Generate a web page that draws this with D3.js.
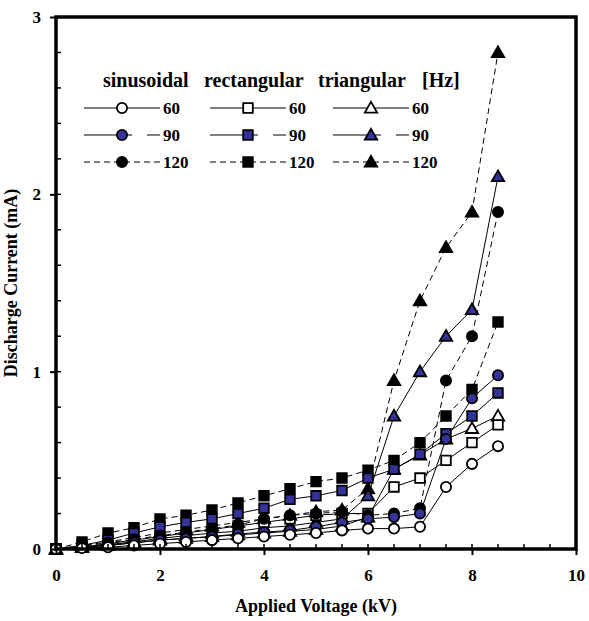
<!DOCTYPE html>
<html>
<head>
<meta charset="utf-8">
<script src="https://cdn.jsdelivr.net/npm/d3@7"></script>
<style>
  body { margin: 0; background: #fff; }
  text { font-family: "Liberation Serif", "Times New Roman", serif; font-weight: bold; }
</style>
</head>
<body>
<script>
// data (kV vs mA)
var voltage = [0, 0.5, 1, 1.5, 2, 2.5, 3, 3.5, 4, 4.5, 5, 5.5, 6, 6.5, 7, 7.5, 8, 8.5];

var sin60  = [0, 0.005, 0.01, 0.02, 0.03, 0.04, 0.05, 0.06, 0.07, 0.08, 0.09, 0.105, 0.115, 0.115, 0.125, 0.35, 0.48, 0.58];
var sin90  = [0, 0.01, 0.02, 0.035, 0.05, 0.06, 0.07, 0.085, 0.095, 0.105, 0.125, 0.15, 0.17, 0.18, 0.2, 0.62, 0.85, 0.98];
var sin120 = [0, 0.015, 0.035, 0.055, 0.075, 0.095, 0.115, 0.135, 0.17, 0.19, 0.2, 0.21, 0.19, 0.2, 0.23, 0.95, 1.2, 1.9];
var rect60  = [0, 0.01, 0.03, 0.05, 0.07, 0.09, 0.11, 0.13, 0.15, 0.17, 0.19, 0.2, 0.2, 0.35, 0.4, 0.5, 0.6, 0.7];
var rect90  = [0, 0.02, 0.05, 0.09, 0.125, 0.15, 0.17, 0.2, 0.23, 0.28, 0.3, 0.33, 0.4, 0.45, 0.535, 0.65, 0.75, 0.88];
var rect120 = [0, 0.04, 0.09, 0.12, 0.17, 0.19, 0.22, 0.26, 0.3, 0.34, 0.38, 0.4, 0.445, 0.5, 0.6, 0.75, 0.9, 1.28];
var tri60  = [0, 0.01, 0.02, 0.035, 0.05, 0.06, 0.07, 0.08, 0.09, 0.1, 0.11, 0.13, 0.18, 0.45, 0.53, 0.62, 0.68, 0.75];
var tri90  = [0, 0.01, 0.025, 0.04, 0.06, 0.075, 0.09, 0.1, 0.12, 0.13, 0.15, 0.17, 0.3, 0.75, 1.0, 1.2, 1.35, 2.1];
var tri120 = [0, 0.02, 0.04, 0.065, 0.09, 0.11, 0.13, 0.15, 0.17, 0.19, 0.21, 0.22, 0.34, 0.95, 1.4, 1.7, 1.9, 2.8];

var xTicks = [0, 2, 4, 6, 8, 10];
var yTicks = [0, 1, 2, 3];
var shapes = ["sinusoidal", "rectangular", "triangular"];
var freqs = ["60", "90", "120"];

var blue = "#333399";

// series table, draw order: triangles, squares, circles (120 -> 60)
var series = [
  { name: "tri120",  shape: "tri",    freq: "120", values: tri120 },
  { name: "tri90",   shape: "tri",    freq: "90",  values: tri90 },
  { name: "tri60",   shape: "tri",    freq: "60",  values: tri60 },
  { name: "rect120", shape: "square", freq: "120", values: rect120 },
  { name: "rect90",  shape: "square", freq: "90",  values: rect90 },
  { name: "rect60",  shape: "square", freq: "60",  values: rect60 },
  { name: "sin120",  shape: "circle", freq: "120", values: sin120 },
  { name: "sin90",   shape: "circle", freq: "90",  values: sin90 },
  { name: "sin60",   shape: "circle", freq: "60",  values: sin60 }
];

var margin = {top: 17, right: 13, bottom: 72, left: 56},
    W = 589, H = 621,
    width = W - margin.left - margin.right,
    height = H - margin.top - margin.bottom;

var x = d3.scaleLinear().domain([0, 10]).range([0, width]);
var y = d3.scaleLinear().domain([0, 3]).range([height, 0]);

var svg = d3.select("body").append("svg")
    .attr("width", W).attr("height", H)
  .append("g")
    .attr("transform", "translate(" + margin.left + "," + margin.top + ")");

function fillOf(freq) { return freq == "60" ? "#fff" : (freq == "90" ? blue : "#000"); }
function symOf(shape) {
  if (shape == "circle") return d3.symbol().type(d3.symbolCircle).size(82)();
  if (shape == "square") return d3.symbol().type(d3.symbolSquare).size(92)();
  return d3.symbol().type(d3.symbolTriangle).size(66)();
}

// lines
var line = d3.line().x(function(d, i) { return x(voltage[i]); }).y(function(d) { return y(d); });
svg.selectAll(".serie").data(series).enter().append("path")
  .attr("class", "serie")
  .attr("d", function(s) { return line(s.values); })
  .attr("fill", "none")
  .attr("stroke", "#000")
  .attr("stroke-width", 1)
  .attr("stroke-dasharray", function(s) { return s.freq == "120" ? "6,4" : null; });

// markers
series.forEach(function(s) {
  svg.append("g").selectAll("path").data(s.values).enter().append("path")
    .attr("d", symOf(s.shape))
    .attr("transform", function(d, i) { return "translate(" + x(voltage[i]) + "," + (y(d) + (s.shape == "tri" ? 1 : 0)) + ")"; })
    .attr("fill", fillOf(s.freq))
    .attr("stroke", "#000")
    .attr("stroke-width", 1.8);
});

// axes
var xAxis = d3.axisBottom(x).tickValues(xTicks).tickSize(6).tickPadding(10).tickFormat(d3.format("d"));
var yAxis = d3.axisLeft(y).tickValues(yTicks).tickSize(6).tickPadding(9).tickFormat(d3.format("d"));

var gx = svg.append("g").attr("transform", "translate(0," + height + ")").call(xAxis);
var gy = svg.append("g").call(yAxis);
[gx, gy].forEach(function(g) {
  g.select(".domain").remove();
  g.selectAll("line").attr("stroke-width", 2);
  g.selectAll("text").style("font-size", "17px").style("font-family", "Liberation Serif, serif").style("font-weight", "bold");
});
gx.selectAll("text").attr("dy", "0.95em");

// minor ticks (inside)
svg.append("g").selectAll("line").data(d3.range(0.5, 10, 0.5)).enter().append("line")
  .attr("x1", function(d) { return x(d); }).attr("x2", function(d) { return x(d); })
  .attr("y1", height).attr("y2", height - 5)
  .attr("stroke", "#000").attr("stroke-width", 1.5);
svg.append("g").selectAll("line").data(d3.range(0.2, 3, 0.2)).enter().append("line")
  .attr("x1", 0).attr("x2", 5)
  .attr("y1", function(d) { return y(d); }).attr("y2", function(d) { return y(d); })
  .attr("stroke", "#000").attr("stroke-width", 1.5);

// frame
svg.append("rect").attr("width", width).attr("height", height)
  .attr("fill", "none").attr("stroke", "#000").attr("stroke-width", 3.5);

// axis titles
svg.append("text").attr("x", width / 2).attr("y", height + 63)
  .attr("text-anchor", "middle").style("font-size", "18px").text("Applied Voltage (kV)");
svg.append("text").attr("transform", "translate(" + (-39) + "," + (height / 2) + ") rotate(-90)")
  .attr("text-anchor", "middle").style("font-size", "18px").text("Discharge Current (mA)");

// legend
var leg = svg.append("g").attr("transform", "translate(-56,-17)");
var titleX = [103, 204, 318];
shapes.forEach(function(s, i) {
  leg.append("text").attr("x", titleX[i]).attr("y", 87).style("font-size", "20px").text(s);
});
leg.append("text").attr("x", 422).attr("y", 87).style("font-size", "20px").text("[Hz]");

var colX = [84, 210, 333];
var rowY = [108, 135, 162];
var legShapes = ["circle", "square", "tri"];
legShapes.forEach(function(sh, c) {
  freqs.forEach(function(f, r) {
    var x0 = colX[c], yy = rowY[r], mx = x0 + 38, x1 = x0 + 76;
    if (f == "60") {
      leg.append("line").attr("x1", x0).attr("x2", x1).attr("y1", yy).attr("y2", yy).attr("stroke", "#000");
    } else if (f == "90") {
      leg.append("line").attr("x1", x0).attr("x2", mx + 10).attr("y1", yy).attr("y2", yy).attr("stroke", "#000");
      leg.append("line").attr("x1", x1 - 13).attr("x2", x1).attr("y1", yy).attr("y2", yy).attr("stroke", "#000");
    } else {
      leg.append("line").attr("x1", x0).attr("x2", x1).attr("y1", yy).attr("y2", yy)
        .attr("stroke", "#000").attr("stroke-dasharray", "6,4");
    }
    leg.append("path").attr("d", symOf(sh))
      .attr("transform", "translate(" + mx + "," + (yy + (sh == "tri" ? 1 : 0)) + ")")
      .attr("fill", fillOf(f)).attr("stroke", "#000").attr("stroke-width", 1.8);
    leg.append("text").attr("x", x1 + 3).attr("y", yy + 6).style("font-size", "17px").text(f);
  });
});
</script>
</body>
</html>
